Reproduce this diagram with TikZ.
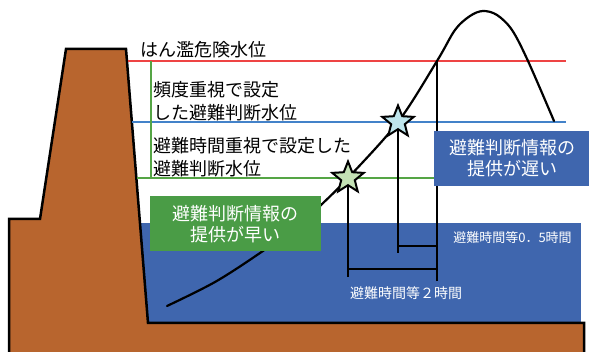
\documentclass[tikz,border=0pt]{standalone}
\usepackage{fontspec}
\newfontfamily\jp{Noto Sans CJK JP}
\usetikzlibrary{shapes.geometric}
\definecolor{levee}{HTML}{B8652E}
\definecolor{water}{HTML}{3F66AE}
\definecolor{boxgreen}{HTML}{4A9C46}
\definecolor{lvred}{HTML}{EE4444}
\definecolor{lvblue}{HTML}{4382C9}
\definecolor{lvgreen}{HTML}{55A545}
\definecolor{starblue}{HTML}{BEE5EC}
\definecolor{stargreen}{HTML}{C4E2B5}
\begin{document}
\begin{tikzpicture}[x=1pt,y=-1pt,
  label/.style={inner sep=0pt, anchor=west, align=left, font=\jp\fontsize{18}{23}\selectfont},
  infobox/.style={inner sep=0pt, minimum width=171pt, minimum height=55pt, text=white, align=center, font=\jp\fontsize{18}{21}\selectfont},
  smalllabel/.style={inner sep=0pt, text=white},
  levelline/.style={line width=2pt},
  timeline/.style={line width=2pt, black},
  starmark/.style={star, star points=5, star point ratio=2.3, minimum size=33pt, inner sep=0pt, draw=black, line width=2pt}]
\useasboundingbox (0,0) rectangle (589,352);
\clip (0,0) rectangle (589,352);

% river water
\fill[water] (140,223) rectangle (581,323);

% levee cross-section and river bed
\draw[fill=levee, line width=2.5pt, line join=miter]
  (9,370) -- (9,219) -- (40,219) -- (66,49) -- (126,49) -- (148,323) -- (584,323) -- (584,370);

% water level lines
\draw[levelline, lvred] (128,61) -- (566,61);
\draw[levelline, lvblue] (132,122) -- (566,122);
\draw[levelline, lvgreen] (137,178) -- (566,178);
\draw[levelline, lvgreen] (151,61) -- (151,178);

% key points on the hydrograph
\coordinate (pg) at (348,178);
\coordinate (pb) at (398,122);
\coordinate (pr) at (437,61);
\coordinate (gdown) at (348,277);
\coordinate (bdown) at (398,253);
\coordinate (rdown) at (437,281);
\coordinate (bjoin) at (398,246);
\coordinate (rjoin1) at (437,246);
\coordinate (gjoin) at (348,269);
\coordinate (rjoin2) at (437,269);

% hydrograph
\draw[line width=2.2pt, line cap=round] plot[smooth, tension=0.55] coordinates {
  (167,306) (215,282) (260,253) (300,224) (321,205) (348,178) (398,122)
  (437,61) (455,30) (470,16) (483,11) (497,15) (512,30) (528,61) (554,121)};

% lead-time brackets
\draw[timeline] (pg) -- (gdown);
\draw[timeline] (pb) -- (bdown);
\draw[timeline] (pr) -- (rdown);
\draw[timeline] (bjoin) -- (rjoin1);
\draw[timeline] (gjoin) -- (rjoin2);

% information boxes
\node[infobox, fill=boxgreen] (early) at (235.5,224) {避難判断情報の\\提供が早い};
\node[infobox, fill=water, minimum width=156pt] (late) at (512,158.5) {避難判断情報の\\提供が遅い};

% stars at the two warning levels
\node[starmark, fill=stargreen] (sg) at (pg) {};
\node[starmark, fill=starblue] (sb) at (pb) {};

% level labels
\node[label] (t1) at (140,50) {はん濫危険水位};
\node[label] (t2) at (153,101) {頻度重視で設定\\した避難判断水位};
\node[label] (t3) at (153,157) {避難時間重視で設定した\\避難判断水位};

% lead-time labels
\node[smalllabel, font=\jp\fontsize{13}{13}\selectfont] (h05) at (512.5,238) {避難時間等0．5時間};
\node[smalllabel, font=\jp\fontsize{14}{14}\selectfont] (h2) at (406,293) {避難時間等２時間};
\end{tikzpicture}
\end{document}
